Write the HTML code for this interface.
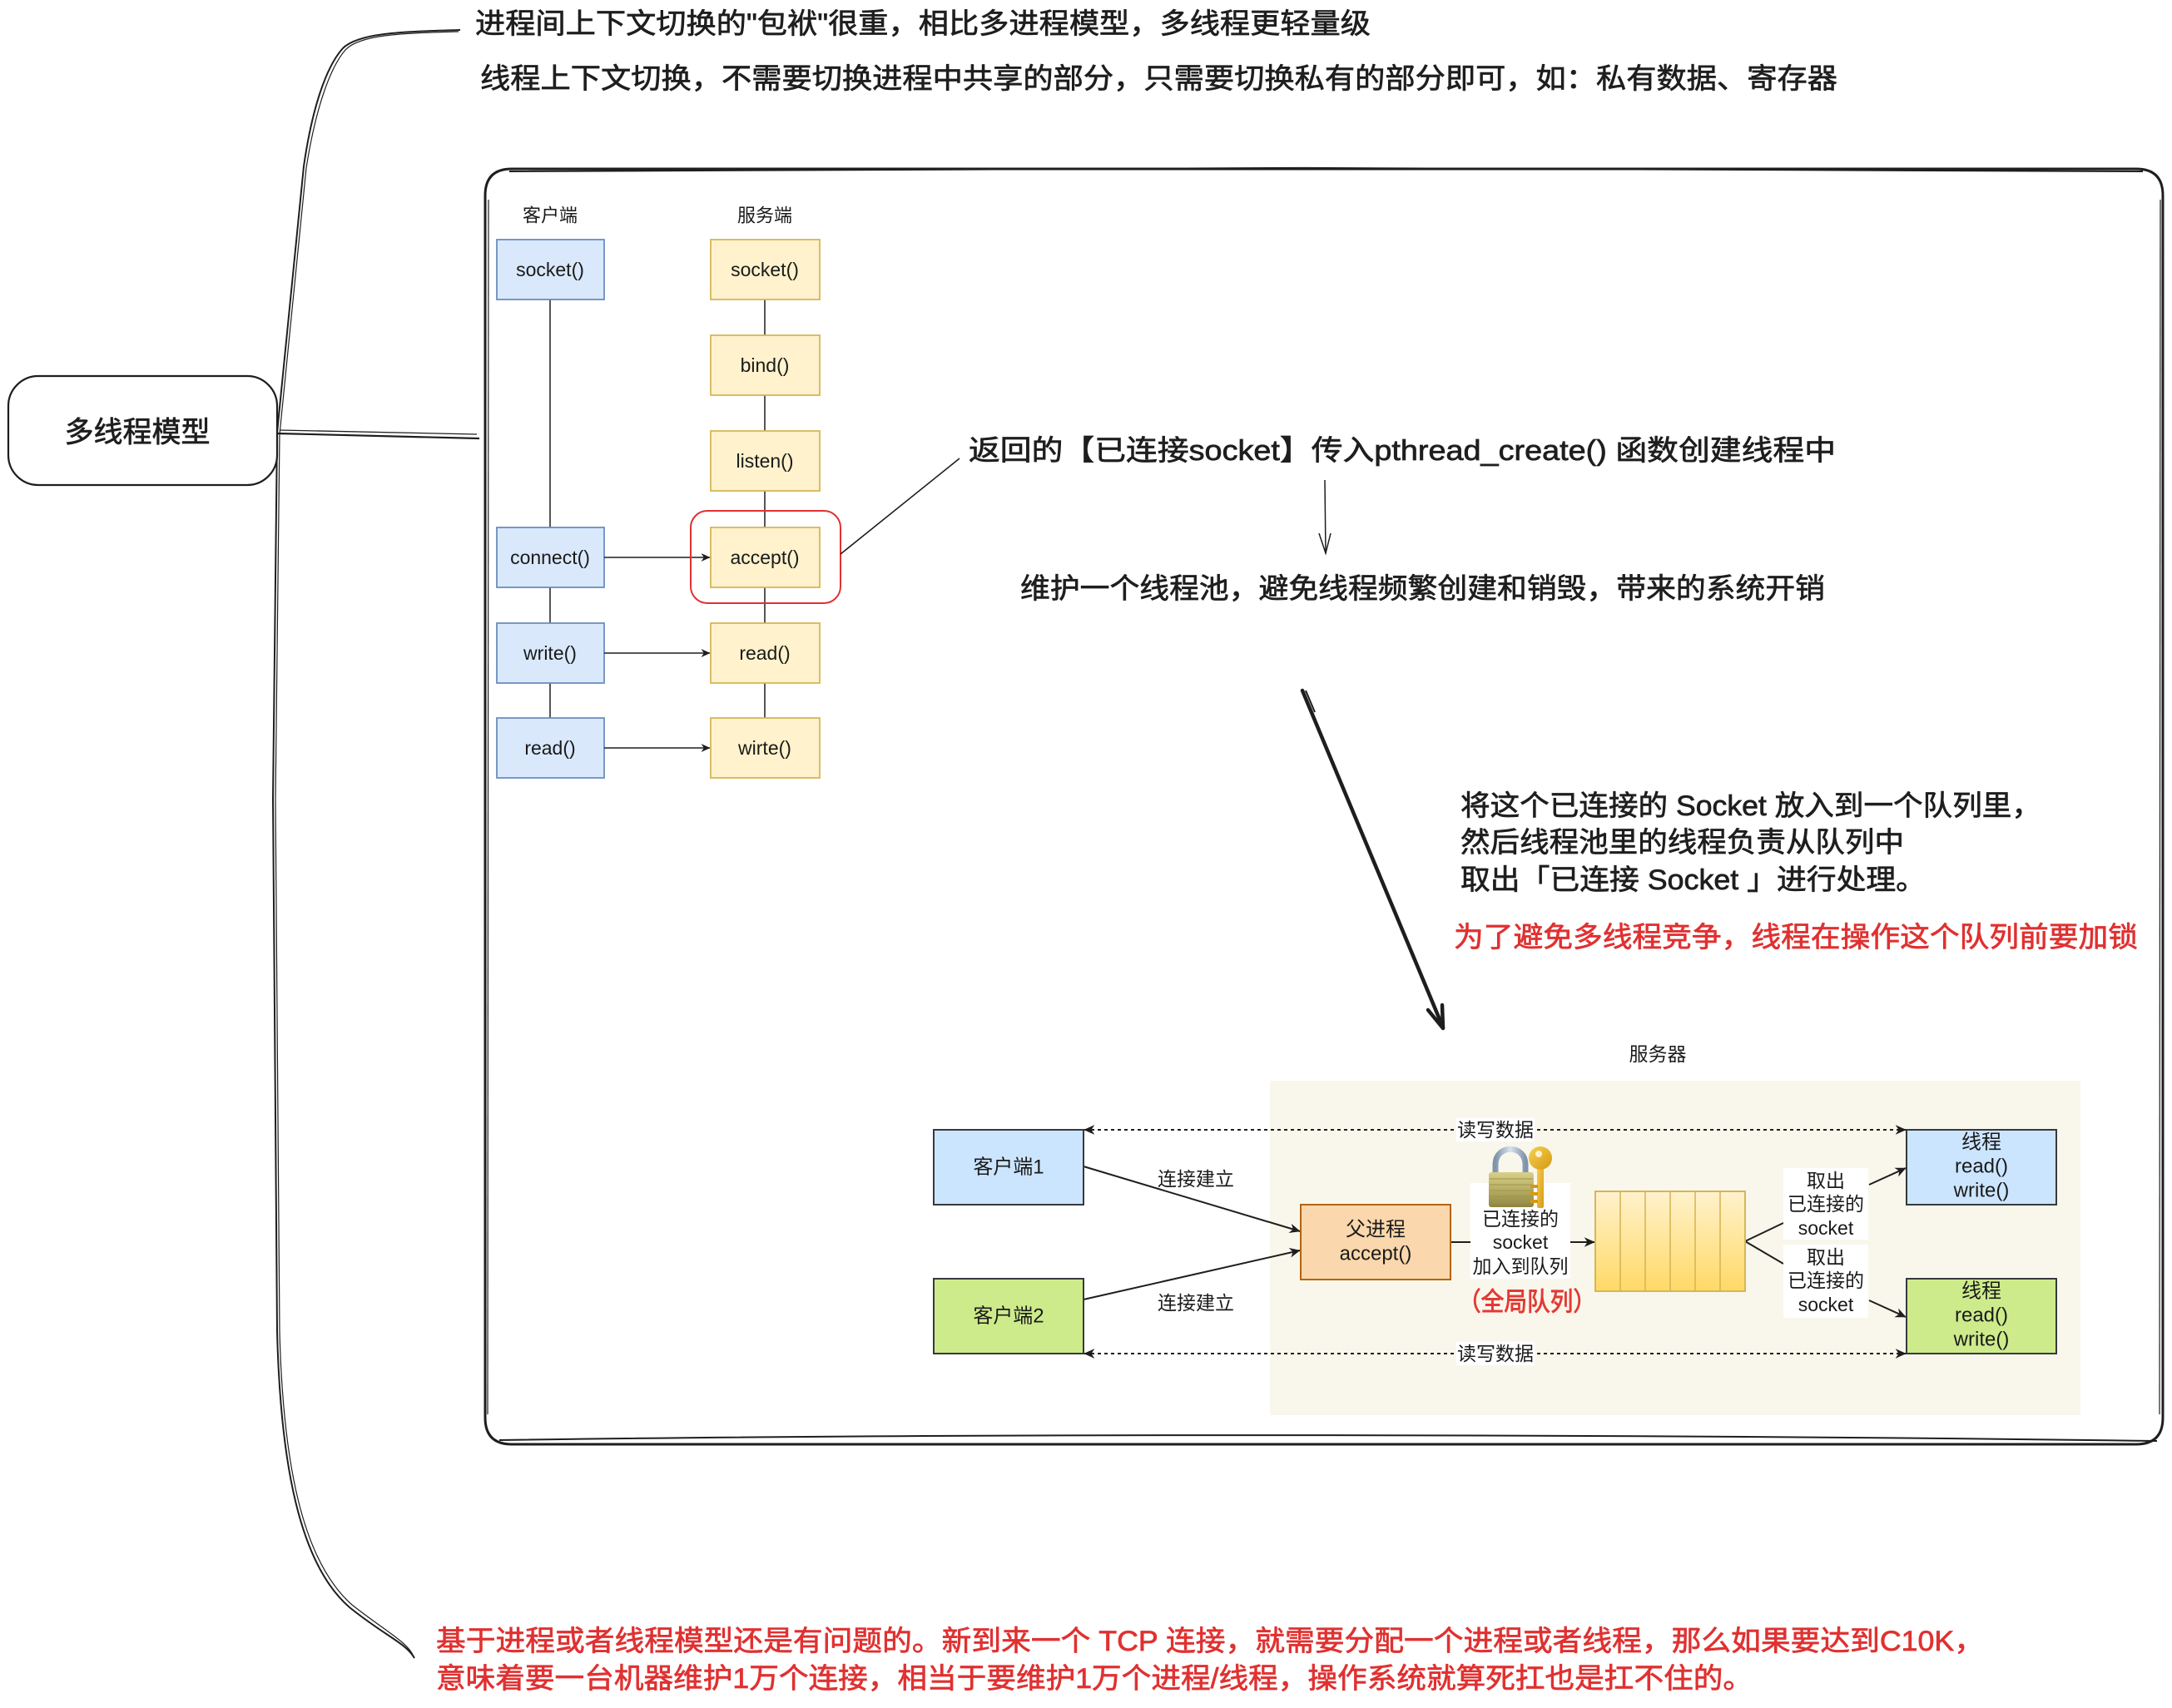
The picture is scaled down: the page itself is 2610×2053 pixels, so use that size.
<!DOCTYPE html>
<html>
<head>
<meta charset="utf-8">
<style>
html,body{margin:0;padding:0;background:#fff;}
body{width:2610px;height:2053px;overflow:hidden;}
svg{display:block;}
.hw{font-family:"Liberation Sans","Noto Sans CJK SC",sans-serif;fill:#1e1e1e;stroke:#1e1e1e;stroke-width:0.7px;}
.red{fill:#e03131;stroke:#e03131;}
.dg{font-family:"Liberation Sans","Noto Sans CJK SC",sans-serif;fill:#1a1a1a;}
</style>
</head>
<body>
<svg width="2610" height="2053" viewBox="0 0 2610 2053" xmlns="http://www.w3.org/2000/svg">
<defs>
  <marker id="ah" viewBox="0 0 10 10" refX="9.5" refY="5" markerWidth="13" markerHeight="13" markerUnits="userSpaceOnUse" orient="auto-start-reverse">
    <path d="M0,0.5 L10,5 L0,9.5 L3,5 z" fill="#1e1e1e"/>
  </marker>
  <marker id="ahs" viewBox="0 0 10 10" refX="9.5" refY="5" markerWidth="11" markerHeight="11" markerUnits="userSpaceOnUse" orient="auto-start-reverse">
    <path d="M0,0.5 L10,5 L0,9.5 L3,5 z" fill="#1e1e1e"/>
  </marker>
  <linearGradient id="qg" x1="0" y1="0" x2="0" y2="1">
    <stop offset="0" stop-color="#fff2cc"/>
    <stop offset="1" stop-color="#ffd966"/>
  </linearGradient>
  <linearGradient id="lockg" x1="0" y1="0" x2="0" y2="1">
    <stop offset="0" stop-color="#d8d08a"/>
    <stop offset="0.5" stop-color="#b7ae62"/>
    <stop offset="1" stop-color="#8c8441"/>
  </linearGradient>
  <linearGradient id="shg" x1="0" y1="0" x2="1" y2="0">
    <stop offset="0" stop-color="#7f93aa"/>
    <stop offset="0.5" stop-color="#d9e2ec"/>
    <stop offset="1" stop-color="#7f93aa"/>
  </linearGradient>
  <linearGradient id="keyg" x1="0" y1="0" x2="1" y2="1">
    <stop offset="0" stop-color="#f7cf52"/>
    <stop offset="1" stop-color="#d69a12"/>
  </linearGradient>
</defs>

<!-- Brace -->
<path d="M 553 36 C 480 38, 430 40, 412 58 C 392 80, 375 130, 365 200 L 333 520 L 328 960 L 333 1600 C 337 1760, 360 1880, 420 1932 C 462 1966, 488 1975, 498 1993" fill="none" stroke="#1e1e1e" stroke-width="2"/>
<path d="M 551 38 C 478 40, 432 42, 415 60 C 396 82, 379 132, 368 202 L 336 522 L 331 962 L 336 1600 C 340 1758, 363 1876, 423 1929 C 465 1962, 490 1974, 497 1991" fill="none" stroke="#1e1e1e" stroke-width="1.2"/>

<!-- Node -->
<rect x="10" y="452" width="323" height="131" rx="36" ry="36" fill="#fff" stroke="#1e1e1e" stroke-width="2.2"/>
<text class="hw" x="165" y="520" text-anchor="middle" dominant-baseline="central" font-size="35" textLength="175" lengthAdjust="spacingAndGlyphs">多线程模型</text>

<!-- node to box connector -->
<path d="M 333 521 L 576 527" stroke="#1e1e1e" stroke-width="2.2" fill="none"/>
<path d="M 336 517 L 573 522" stroke="#1e1e1e" stroke-width="1.3" fill="none"/>

<!-- Top texts -->
<text class="hw" x="571" y="29" dominant-baseline="central" font-size="34" textLength="1076" lengthAdjust="spacingAndGlyphs">进程间上下文切换的"包袱"很重，相比多进程模型，多线程更轻量级</text>
<text class="hw" x="577" y="95" dominant-baseline="central" font-size="34" textLength="1631" lengthAdjust="spacingAndGlyphs">线程上下文切换，不需要切换进程中共享的部分，只需要切换私有的部分即可，如：私有数据、寄存器</text>

<!-- Big box -->
<path d="M 615 203 L 2567 203 Q 2599 203 2599 235 L 2599 1704 Q 2599 1736 2567 1736 L 615 1736 Q 583 1736 583 1704 L 583 235 Q 583 203 615 203 Z" fill="none" stroke="#1e1e1e" stroke-width="3"/>
<path d="M 612 206 C 1200 200, 2000 201, 2575 206" fill="none" stroke="#1e1e1e" stroke-width="2"/>
<path d="M 600 1731 C 1200 1722, 2000 1724, 2592 1732" fill="none" stroke="#1e1e1e" stroke-width="2"/>
<path d="M 587 240 L 586 1700" fill="none" stroke="#1e1e1e" stroke-width="1.2"/>
<path d="M 2596 240 L 2595 1700" fill="none" stroke="#1e1e1e" stroke-width="1.2"/>

<!-- Left flow diagram -->
<text class="dg" x="661" y="259" text-anchor="middle" dominant-baseline="central" font-size="22">客户端</text>
<text class="dg" x="919" y="259" text-anchor="middle" dominant-baseline="central" font-size="22">服务端</text>

<line x1="661" y1="360" x2="661" y2="863" stroke="#1e1e1e" stroke-width="1.5"/>
<line x1="919" y1="360" x2="919" y2="863" stroke="#1e1e1e" stroke-width="1.5"/>

<g stroke="#6c8ebf" stroke-width="1.8" fill="#dae8fc">
  <rect x="597" y="288" width="129" height="72"/>
  <rect x="597" y="634" width="129" height="72"/>
  <rect x="597" y="749" width="129" height="72"/>
  <rect x="597" y="863" width="129" height="72"/>
</g>
<g stroke="#d6b656" stroke-width="1.8" fill="#fff2cc">
  <rect x="854" y="288" width="131" height="72"/>
  <rect x="854" y="403" width="131" height="72"/>
  <rect x="854" y="518" width="131" height="72"/>
  <rect x="854" y="634" width="131" height="72"/>
  <rect x="854" y="749" width="131" height="72"/>
  <rect x="854" y="863" width="131" height="72"/>
</g>
<g class="dg" font-size="23" text-anchor="middle" dominant-baseline="central">
  <text x="661" y="324">socket()</text>
  <text x="661" y="670">connect()</text>
  <text x="661" y="785">write()</text>
  <text x="661" y="899">read()</text>
  <text x="919" y="324">socket()</text>
  <text x="919" y="439">bind()</text>
  <text x="919" y="554">listen()</text>
  <text x="919" y="670">accept()</text>
  <text x="919" y="785">read()</text>
  <text x="919" y="899">wirte()</text>
</g>
<g stroke="#1e1e1e" stroke-width="1.6" fill="none">
  <line x1="726" y1="670" x2="853" y2="670" marker-end="url(#ahs)"/>
  <line x1="726" y1="785" x2="853" y2="785" marker-end="url(#ahs)"/>
  <line x1="726" y1="899" x2="853" y2="899" marker-end="url(#ahs)"/>
</g>
<rect x="830" y="614" width="180" height="111" rx="20" ry="20" fill="none" stroke="#e03131" stroke-width="2"/>
<line x1="1010" y1="666" x2="1153" y2="551" stroke="#1e1e1e" stroke-width="1.6"/>

<!-- Middle texts -->
<text class="hw" x="1164" y="542" dominant-baseline="central" font-size="34" textLength="1042" lengthAdjust="spacingAndGlyphs">返回的【已连接socket】传入pthread_create() 函数创建线程中</text>
<g stroke="#1e1e1e" stroke-width="1.5" fill="none">
  <line x1="1592" y1="577" x2="1593" y2="665"/>
  <path d="M 1585 641 L 1593 665 L 1599 641"/>
</g>
<text class="hw" x="1226" y="708" dominant-baseline="central" font-size="34" textLength="967" lengthAdjust="spacingAndGlyphs">维护一个线程池，避免线程频繁创建和销毁，带来的系统开销</text>

<!-- Big arrow -->
<g stroke="#1e1e1e" stroke-width="4.5" fill="none" stroke-linecap="round" stroke-linejoin="round">
  <line x1="1565" y1="830" x2="1734" y2="1235"/>
  <path d="M 1716 1214 L 1734 1236 L 1733 1208"/>
</g>
<line x1="1569" y1="830" x2="1580" y2="856" stroke="#1e1e1e" stroke-width="2"/>

<!-- Right text block -->
<text class="hw" x="1755" y="969" dominant-baseline="central" font-size="34" textLength="698" lengthAdjust="spacingAndGlyphs">将这个已连接的 Socket 放入到一个队列里，</text>
<text class="hw" x="1755" y="1013" dominant-baseline="central" font-size="34" textLength="533" lengthAdjust="spacingAndGlyphs">然后线程池里的线程负责从队列中</text>
<text class="hw" x="1755" y="1058" dominant-baseline="central" font-size="34" textLength="559" lengthAdjust="spacingAndGlyphs">取出「已连接 Socket 」进行处理。</text>
<text class="hw red" x="1747" y="1127" dominant-baseline="central" font-size="34" textLength="822" lengthAdjust="spacingAndGlyphs">为了避免多线程竞争，线程在操作这个队列前要加锁</text>

<!-- Bottom diagram -->
<text class="dg" x="1992" y="1267" text-anchor="middle" dominant-baseline="central" font-size="23">服务器</text>
<rect x="1526" y="1299" width="974" height="402" fill="#f9f7ec"/>

<!-- connection arrows -->
<g stroke="#1e1e1e" stroke-width="2" fill="none">
  <line x1="1302" y1="1402" x2="1562" y2="1480" marker-end="url(#ah)"/>
  <line x1="1302" y1="1562" x2="1562" y2="1503" marker-end="url(#ah)"/>
  <line x1="1743" y1="1493" x2="1767" y2="1493"/>
  <line x1="1887" y1="1493" x2="1916" y2="1493" marker-end="url(#ah)"/>
  <line x1="2097" y1="1492" x2="2143" y2="1470"/>
  <line x1="2097" y1="1492" x2="2143" y2="1519"/>
  <line x1="2246" y1="1424" x2="2290" y2="1404" marker-end="url(#ah)"/>
  <line x1="2246" y1="1563" x2="2290" y2="1583" marker-end="url(#ah)"/>
</g>
<g stroke="#1e1e1e" stroke-width="2" fill="none" stroke-dasharray="4 4">
  <line x1="1303" y1="1358" x2="2290" y2="1358" marker-start="url(#ah)" marker-end="url(#ah)"/>
  <line x1="1303" y1="1627" x2="2290" y2="1627" marker-start="url(#ah)" marker-end="url(#ah)"/>
</g>
<rect x="1750" y="1344" width="94" height="28" fill="#fff"/>
<rect x="1750" y="1613" width="94" height="28" fill="#fff"/>
<g class="dg" font-size="23" text-anchor="middle" dominant-baseline="central">
  <text x="1797" y="1358">读写数据</text>
  <text x="1797" y="1627">读写数据</text>
  <text x="1437" y="1417">连接建立</text>
  <text x="1437" y="1566">连接建立</text>
</g>

<!-- boxes -->
<rect x="1122" y="1358" width="180" height="90" fill="#cce5ff" stroke="#36393d" stroke-width="2"/>
<rect x="1122" y="1537" width="180" height="90" fill="#cdeb8b" stroke="#36393d" stroke-width="2"/>
<rect x="1563" y="1448" width="180" height="90" fill="#fad7ac" stroke="#b46504" stroke-width="2"/>
<rect x="2291" y="1358" width="180" height="90" fill="#cce5ff" stroke="#36393d" stroke-width="2"/>
<rect x="2291" y="1537" width="180" height="90" fill="#cdeb8b" stroke="#36393d" stroke-width="2"/>
<g class="dg" font-size="24" text-anchor="middle" dominant-baseline="central">
  <text x="1212" y="1403">客户端1</text>
  <text x="1212" y="1582">客户端2</text>
  <text x="1653" y="1478">父进程</text>
  <text x="1653" y="1507">accept()</text>
  <text x="2381" y="1373">线程</text>
  <text x="2381" y="1402">read()</text>
  <text x="2381" y="1431">write()</text>
  <text x="2381" y="1552">线程</text>
  <text x="2381" y="1581">read()</text>
  <text x="2381" y="1610">write()</text>
</g>

<!-- queue -->
<rect x="1917" y="1432" width="180" height="120" fill="url(#qg)" stroke="#d6b656" stroke-width="2"/>
<g stroke="#d6b656" stroke-width="1.6">
  <line x1="1947" y1="1432" x2="1947" y2="1552"/>
  <line x1="1977" y1="1432" x2="1977" y2="1552"/>
  <line x1="2007" y1="1432" x2="2007" y2="1552"/>
  <line x1="2037" y1="1432" x2="2037" y2="1552"/>
  <line x1="2067" y1="1432" x2="2067" y2="1552"/>
</g>

<!-- label for enqueue -->
<rect x="1767" y="1422" width="120" height="115" fill="#fff"/>
<g class="dg" font-size="23" text-anchor="middle" dominant-baseline="central">
  <text x="1827" y="1465">已连接的</text>
  <text x="1827" y="1493">socket</text>
  <text x="1827" y="1522">加入到队列</text>
</g>
<text x="1835" y="1565" text-anchor="middle" dominant-baseline="central" font-size="31" fill="#e53935" stroke="#e53935" stroke-width="0.9" font-family="Liberation Sans, 'Noto Sans CJK SC', sans-serif" textLength="166" lengthAdjust="spacingAndGlyphs">（全局队列）</text>

<!-- dequeue labels -->
<rect x="2143" y="1404" width="102" height="86" fill="#fff"/>
<rect x="2143" y="1496" width="102" height="88" fill="#fff"/>
<g class="dg" font-size="23" text-anchor="middle" dominant-baseline="central">
  <text x="2194" y="1419">取出</text>
  <text x="2194" y="1447">已连接的</text>
  <text x="2194" y="1476">socket</text>
  <text x="2194" y="1511">取出</text>
  <text x="2194" y="1539">已连接的</text>
  <text x="2194" y="1568">socket</text>
</g>

<!-- lock icon -->
<g>
  <path d="M 1797 1412 L 1797 1400 C 1797 1375, 1833 1375, 1833 1400 L 1833 1412" fill="none" stroke="url(#shg)" stroke-width="7"/>
  <rect x="1789" y="1409" width="54" height="42" rx="3" fill="url(#lockg)"/>
  <g stroke="#9d9650" stroke-width="1">
    <line x1="1790" y1="1417" x2="1842" y2="1417"/>
    <line x1="1790" y1="1424" x2="1842" y2="1424"/>
    <line x1="1790" y1="1431" x2="1842" y2="1431"/>
    <line x1="1790" y1="1438" x2="1842" y2="1438"/>
    <line x1="1790" y1="1445" x2="1842" y2="1445"/>
  </g>
  <rect x="1847" y="1400" width="8" height="52" rx="2" fill="url(#keyg)"/>
  <rect x="1839" y="1424" width="9" height="4" fill="#d69a12"/>
  <rect x="1839" y="1433" width="9" height="4" fill="#d69a12"/>
  <rect x="1839" y="1442" width="9" height="4" fill="#d69a12"/>
  <circle cx="1851" cy="1392" r="14" fill="url(#keyg)"/>
  <circle cx="1849" cy="1387" r="4" fill="#fdf2c8"/>
</g>

<!-- Bottom red texts -->
<text class="hw red" x="524" y="1973" dominant-baseline="central" font-size="34" textLength="1860" lengthAdjust="spacingAndGlyphs">基于进程或者线程模型还是有问题的。新到来一个 TCP 连接，就需要分配一个进程或者线程，那么如果要达到C10K，</text>
<text class="hw red" x="524" y="2018" dominant-baseline="central" font-size="34" textLength="1582" lengthAdjust="spacingAndGlyphs">意味着要一台机器维护1万个连接，相当于要维护1万个进程/线程，操作系统就算死扛也是扛不住的。</text>
</svg>
</body>
</html>
